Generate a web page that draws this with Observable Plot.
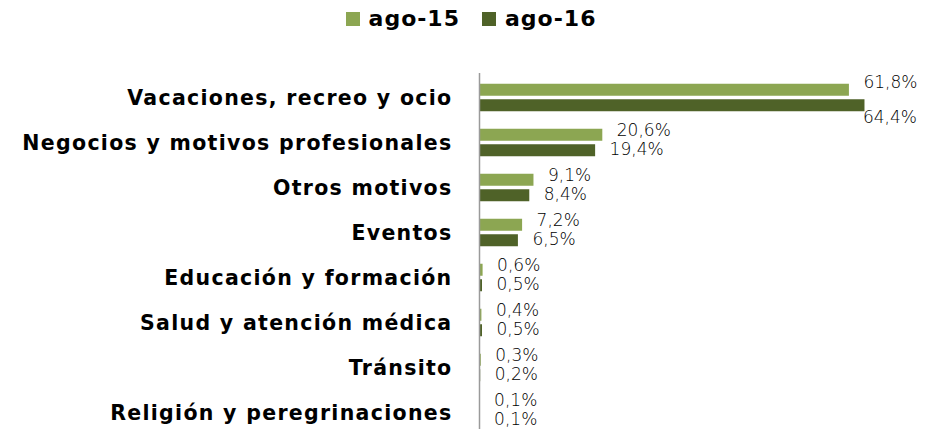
<!DOCTYPE html>
<html>
<head>
<meta charset="utf-8">
<script src="https://cdn.jsdelivr.net/npm/d3@7"></script>
<script src="https://cdn.jsdelivr.net/npm/@observablehq/plot@0.6"></script>
<style>
  html, body { margin: 0; padding: 0; background: #fff; width: 938px; height: 429px; overflow: hidden; }
  body { font-family: "DejaVu Sans", sans-serif; }
  #legend { height: 45px; display: flex; justify-content: center; align-items: flex-start; box-sizing: border-box; padding-top: 6px; padding-left: 4px; }
  .item { display: flex; align-items: center; margin: 0 11px; font-weight: bold; font-size: 22px; letter-spacing: 1px; color: #000; }
  .sw { width: 14px; height: 14px; margin-right: 9px; flex: none; }
  #chart g[aria-label="y-axis tick label"] { letter-spacing: 1.3px; }
</style>
</head>
<body>
<div id="legend"></div>
<div id="chart"></div>
<script>
const categories = [
  "Vacaciones, recreo y ocio",
  "Negocios y motivos profesionales",
  "Otros motivos",
  "Eventos",
  "Educación y formación",
  "Salud y atención médica",
  "Tránsito",
  "Religión y peregrinaciones"
];
const series = ["ago-15", "ago-16"];
const values15 = [61.8, 20.6, 9.1, 7.2, 0.6, 0.4, 0.3, 0.1];
const values16 = [64.4, 19.4, 8.4, 6.5, 0.5, 0.5, 0.2, 0.1];
const colors = ["#8CA652", "#4F6228"];

const legend = document.getElementById("legend");
series.forEach((s, i) => {
  const it = document.createElement("div");
  it.className = "item";
  const sw = document.createElement("span");
  sw.className = "sw";
  sw.style.background = colors[i];
  it.appendChild(sw);
  it.appendChild(document.createTextNode(s));
  legend.appendChild(it);
});

const d15 = categories.map((c, i) => ({cat: c, value: values15[i]}));
const d16 = categories.map((c, i) => ({cat: c, value: values16[i]}));
const fmt = v => d3.format(".1f")(v).replace(".", ",") + "%";
const maxV = d3.max(values16);
const labelStyle = {fontSize: 17, fontWeight: 200, fontFamily: "DejaVu Sans", fill: "#000", textAnchor: "start"};

const chart = Plot.plot({
  width: 938,
  height: 400,
  marginLeft: 479,
  marginRight: 40,
  marginTop: 28,
  marginBottom: 8,
  x: {domain: [0, 70], axis: null},
  y: {domain: categories, padding: 0, label: null, tickSize: 0, tickPadding: 27},
  style: {fontFamily: "DejaVu Sans", fontSize: "20.5px", fontWeight: "bold", color: "#000"},
  marks: [
    Plot.barX(d15, {x: "value", y: "cat", fill: colors[0], insetTop: 8.75, insetBottom: 24.25}),
    Plot.barX(d16, {x: "value", y: "cat", fill: colors[1], insetTop: 24.25, insetBottom: 8.75}),
    Plot.ruleX([0], {stroke: "#9a9a9a", strokeWidth: 1.5}),
    Plot.text(d15.filter((d, i) => i > 0), {x: "value", y: "cat", text: d => fmt(d.value), dx: 14, dy: -12, ...labelStyle}),
    Plot.text(d16.filter((d, i) => i > 0), {x: "value", y: "cat", text: d => fmt(d.value), dx: 14, dy: 7, ...labelStyle}),
    Plot.text(d15.filter((d, i) => i === 0), {x: "value", y: "cat", text: d => fmt(d.value), dx: 14, dy: -15, ...labelStyle}),
    Plot.text(d16.filter(d => d.value === maxV), {x: "value", y: "cat", text: d => fmt(d.value), dx: -2, dy: 20, ...labelStyle})
  ]
});
document.getElementById("chart").appendChild(chart);
</script>
</body>
</html>
